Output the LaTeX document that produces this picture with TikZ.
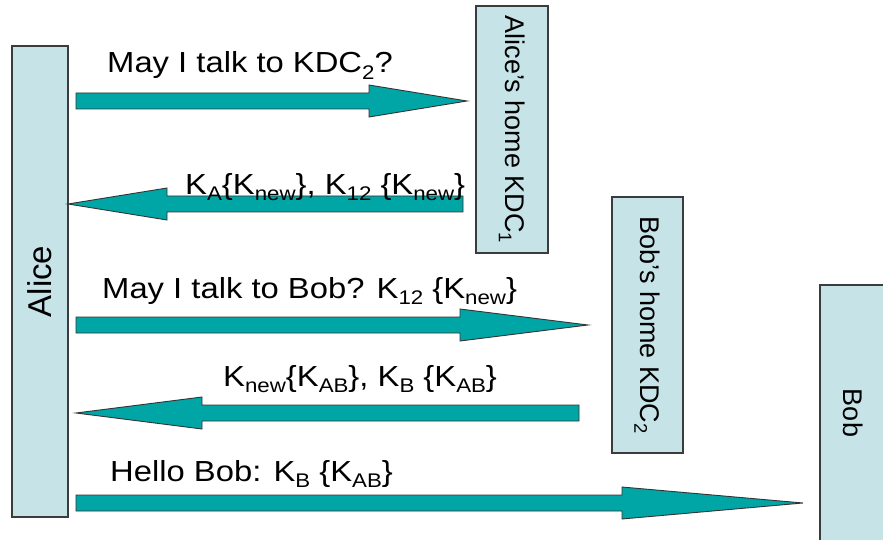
\documentclass[tikz,border=0pt]{standalone}
\usepackage{fontspec}
\usepackage{graphicx}
\setmainfont{Liberation Sans}
\usetikzlibrary{calc}

\definecolor{boxfill}{RGB}{198,228,232}
\definecolor{arrowfill}{RGB}{0,166,166}
\definecolor{edgegray}{RGB}{60,60,60}

% subscript as set in the message labels
\newcommand\lo[1]{\raisebox{-0.24em}{\scalebox{0.68}{#1}}}

% half thickness of the shaft and of the head of a block arrow
\newcommand\shaftw{8}
\newcommand\headw{16}
% #1 tail, #2 tip, #3 x offset from tip to the base of the head
\newcommand\blockarrow[3]{%
  \filldraw[blk] ($(#1)+(0,-\shaftw)$) -- ($(#2)+(#3,-\shaftw)$)
    -- ($(#2)+(#3,-\headw)$) -- (#2) -- ($(#2)+(#3,\headw)$)
    -- ($(#2)+(#3,\shaftw)$) -- ($(#1)+(0,\shaftw)$) -- cycle;}

\begin{document}
\begin{tikzpicture}[x=1pt,y=-1pt,
  party/.style={draw=edgegray, line width=1.2pt, fill=boxfill, inner sep=0pt, outer sep=0pt},
  boxtext/.style={font=\fontsize{27}{32}\selectfont, inner sep=0pt},
  msg/.style={font=\fontsize{29}{34}\selectfont, anchor=base west, inner sep=0pt, xscale=1.13},
  blk/.style={draw=black!80, line width=0.9pt, fill=arrowfill, line join=miter}]

\useasboundingbox (0,0) rectangle (883,540);
\clip (0,0) rectangle (883,540);

% the four parties
\node[party, minimum width=56, minimum height=471] (alice) at (40,281.5) {};
\node[party, minimum width=72, minimum height=247] (kdc1) at (512,129.5) {};
\node[party, minimum width=71, minimum height=256] (kdc2) at (647.5,325) {};
\node[party, minimum width=75, minimum height=267] (bob) at (857.5,418.5) {};

\node[boxtext, font=\fontsize{33}{38}\selectfont, rotate=90] (alicet) at (alice) {Alice};
\node[boxtext, rotate=-90] (kdc1t) at (kdc1) {Alice’s home KDC\lo{1}};
\node[boxtext, rotate=-90] (kdc2t) at (kdc2) {Bob’s home KDC\lo{2}};
\node[boxtext, rotate=-90] (bobt) at (853,413) {Bob};

% arrow ends
\coordinate (a1s) at (76,101);  \coordinate (a1t) at (467,101);
\coordinate (a2s) at (463,204); \coordinate (a2t) at (alice.east |- a2s);
\coordinate (a3s) at (76,325);  \coordinate (a3t) at (588,325);
\coordinate (a4s) at (579,413); \coordinate (a4t) at (76,413);
\coordinate (a5s) at (76,503);  \coordinate (a5t) at (803,503);

\blockarrow{a1s}{a1t}{-98}
\blockarrow{a2s}{a2t}{99}
\blockarrow{a3s}{a3t}{-128}
\blockarrow{a4s}{a4t}{126}
\blockarrow{a5s}{a5t}{-181}

% messages
\node[msg] (m1) at (107,73) {May I talk to KDC\lo{2}?};
\node[msg] (m2) at (185,194) {K\lo{A}\{K\lo{new}\}, K\lo{12} \{K\lo{new}\}};
\node[msg] (m3) at (102,298) {May I talk to Bob? K\lo{12} \{K\lo{new}\}};
\node[msg] (m4) at (223,386) {K\lo{new}\{K\lo{AB}\}, K\lo{B} \{K\lo{AB}\}};
\node[msg] (m5) at (110,481) {Hello Bob: K\lo{B} \{K\lo{AB}\}};
\end{tikzpicture}
\end{document}
